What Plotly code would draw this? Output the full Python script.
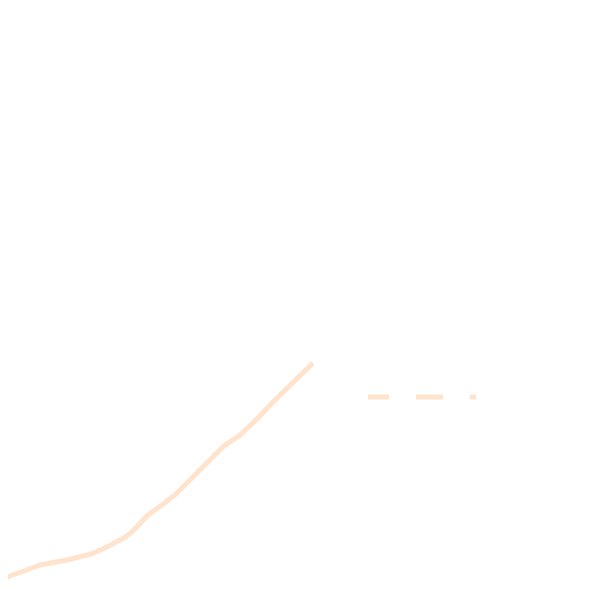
import plotly.graph_objects as go

# curve (x, height above bottom edge)
curve_x = [0, 10, 24, 40, 67, 91, 105, 113, 124, 132, 148, 162, 176, 192,
           208, 224, 240, 257, 273, 289, 305, 313]
curve_y = [19, 24, 29, 35, 40, 46, 52, 56, 62, 68, 85, 95, 106, 122,
           138, 154, 165, 181, 198, 214, 230, 237]

# dashed flat segment
ref_x = [368, 476]
ref_y = [203, 203]

peach = "#FFE3CC"

fig = go.Figure()
fig.add_trace(go.Scatter(x=curve_x, y=curve_y, mode="lines",
                         line=dict(color=peach, width=5)))
fig.add_trace(go.Scatter(x=ref_x, y=ref_y, mode="lines",
                         line=dict(color=peach, width=5, dash="21px,27px,27px,27px")))

# page body has an 8px margin, so the figure is shrunk and ranges shifted
fig.update_layout(
    width=592, height=592,
    margin=dict(l=0, r=0, t=0, b=0),
    paper_bgcolor="white", plot_bgcolor="white",
    showlegend=False,
    xaxis=dict(range=[8, 600], visible=False),
    yaxis=dict(range=[0, 592], visible=False),
)

fig.write_html("out.html")
